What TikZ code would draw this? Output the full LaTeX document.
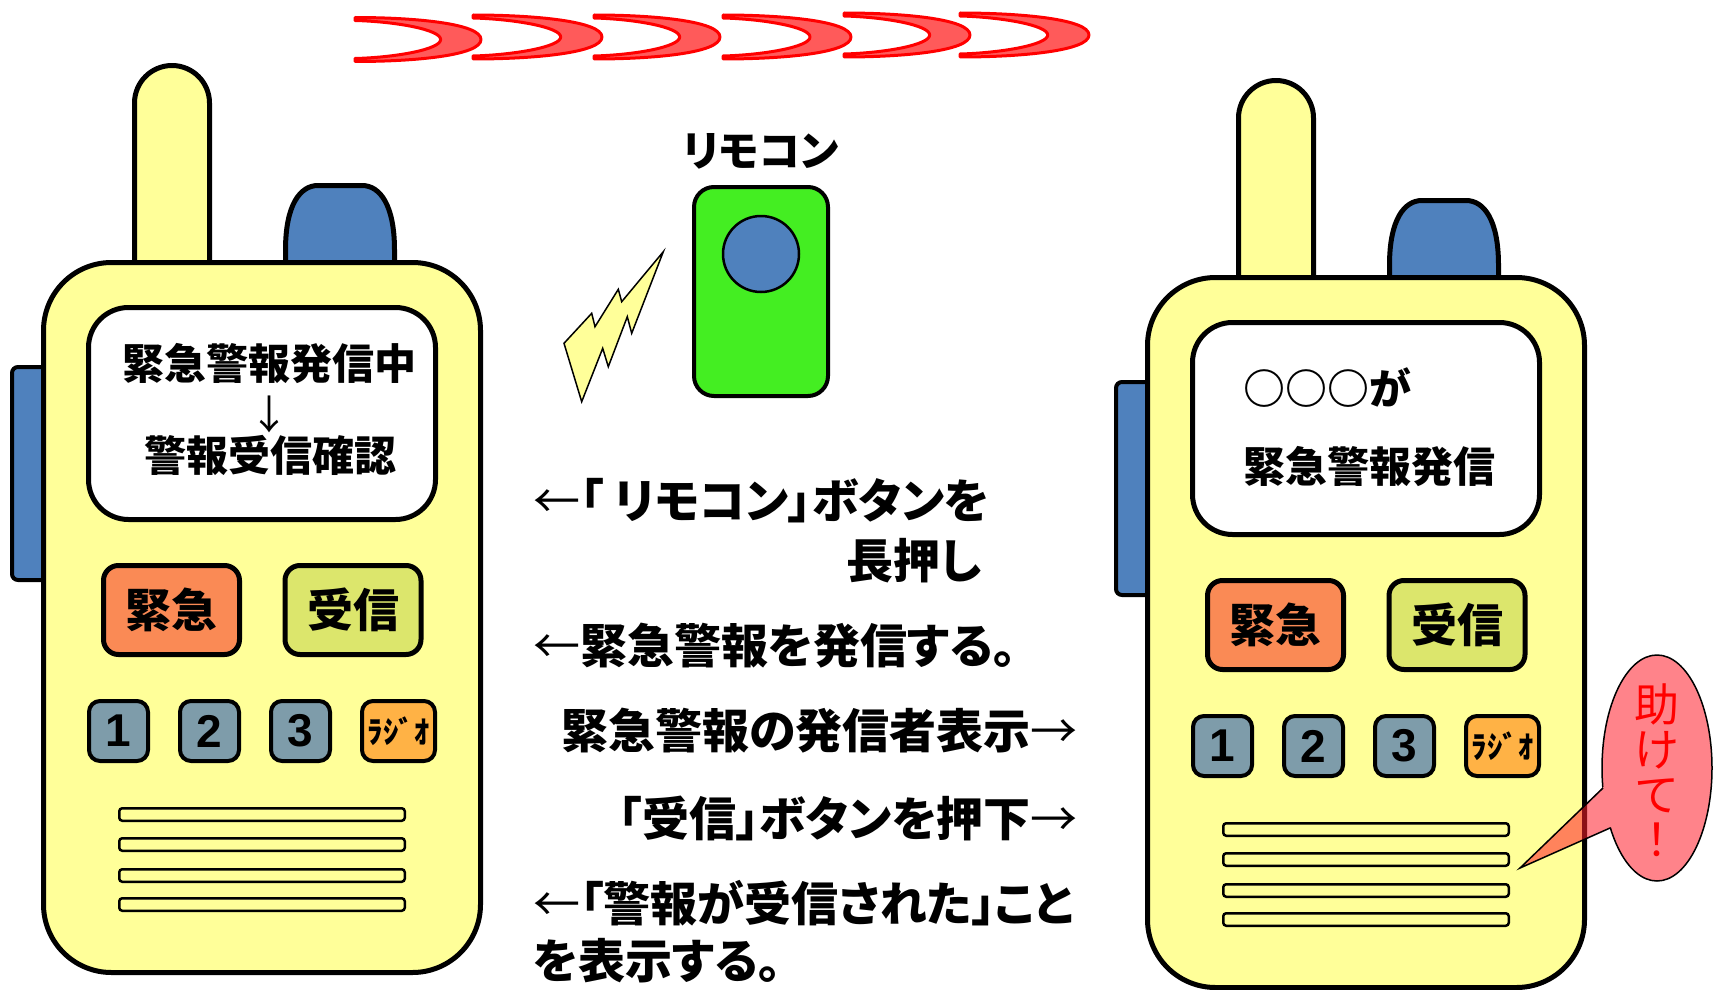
\documentclass[tikz,border=0pt]{standalone}
\usepackage{fontspec}
\setmainfont{Noto Sans CJK JP}[RawFeature=+palt]
\newfontfamily\digitfont{Liberation Sans}
\newcommand{\setpx}[1]{\fontsize{#1}{#1}\selectfont}
\newcommand{\thinarrow}[1]{{\mdseries #1}}

\definecolor{bodyyellow}{HTML}{FFFF99}
\definecolor{partblue}{HTML}{4F81BD}
\definecolor{emgorange}{HTML}{FA8A55}
\definecolor{rcvgreen}{HTML}{DCE66C}
\definecolor{keyblue}{HTML}{7E9CAA}
\definecolor{radioorange}{HTML}{FFB245}
\definecolor{remotegreen}{HTML}{44EE22}
\definecolor{wavefill}{HTML}{FF5A5A}
\definecolor{bubblered}{HTML}{FF1E2A}

\tikzset{
  shell/.style={draw=black, line width=5pt, line join=round},
  bigkey/.style={draw=black, line width=5pt, rounded corners=15pt,
    minimum width=136pt, minimum height=89pt, inner sep=0pt,
    font=\bfseries\setpx{46}},
  smallkey/.style={draw=black, line width=4pt, rounded corners=11pt,
    minimum width=59pt, minimum height=60pt, inner sep=0pt},
  digitkey/.style={smallkey, fill=keyblue, font=\digitfont\bfseries\setpx{46}},
  grille/.style={draw=black, line width=2.5pt, fill=bodyyellow, rounded corners=3pt},
  caption/.style={font=\bfseries\setpx{47}, inner sep=0pt},
  screentext/.style={font=\bfseries\setpx{42}, inner sep=0pt},
  wave/.style={draw=red, fill=wavefill, line width=3pt, line join=round},
}

% one handset: #1 name prefix, (#2,#3) offset
\newcommand{\handset}[3]{%
\begin{scope}[shift={(#2,#3)}]
  % side grip
  \draw[line width=4pt, fill=partblue, rounded corners=6pt] (12,367) rectangle (50,580);
  % antenna
  \draw[shell, fill=bodyyellow] (134.5,266) -- (134.5,103)
    .. controls (134.5,82.3) and (151.3,65.5) .. (172,65.5)
    .. controls (192.7,65.5) and (209.5,82.3) .. (209.5,103) -- (209.5,266);
  % knob
  \draw[shell, fill=partblue] (285.5,266) -- (285.5,250)
    .. controls (285.5,205) and (300,185.5) .. (318,185.5) -- (362,185.5)
    .. controls (380,185.5) and (394.5,205) .. (394.5,250) -- (394.5,266);
  % case
  \node[shell, fill=bodyyellow, rounded corners=68pt, minimum width=437pt,
        minimum height=710pt] (#1-body) at (262,617.5) {};
  % display
  \node[shell, fill=white, rounded corners=40pt, minimum width=347pt,
        minimum height=212pt] (#1-screen) at (262,413.5) {};
  % main keys
  \node[bigkey, fill=emgorange] (#1-emg) at (171.5,610) {緊急};
  \node[bigkey, fill=rcvgreen] (#1-rcv) at (353,610) {受信};
  % small keys
  \node[digitkey] (#1-k1) at (118.5,731) {1};
  \node[digitkey] (#1-k2) at (209.5,731) {2};
  \node[digitkey] (#1-k3) at (300.5,731) {3};
  \node[smallkey, fill=radioorange, minimum width=73pt, font=\bfseries\setpx{31}] (#1-radio) at (398.5,731) {ﾗｼﾞｵ};
  % speaker slots
  \draw[grille] (119.25,808.25) rectangle (404.75,820.75);
  \draw[grille] (119.25,838.25) rectangle (404.75,850.75);
  \draw[grille] (119.25,869.25) rectangle (404.75,881.75);
  \draw[grille] (119.25,898.25) rectangle (404.75,910.75);
\end{scope}}

\begin{document}
\begin{tikzpicture}[x=1pt, y=-1pt]
\useasboundingbox (0,0) rectangle (1713,990);

% radio waves along the top
\foreach \x/\y/\w in {355/39.5/126, 473/37/129, 594/37/126, 723/37/128, 844/35/126, 960/35/129}{
  \draw[wave, shift={(\x,\y)}] (0,-22) .. controls (60,-22) and (\w,-16) .. (\w,0)
    .. controls (\w,16) and (60,22) .. (0,22) -- (0,19)
    .. controls (40,18) and (0.68*\w,10) .. (0.68*\w,0)
    .. controls (0.68*\w,-10) and (40,-18) .. (0,-19) -- cycle;
}

% handsets
\handset{tx}{0}{0}
\handset{rx}{1104}{15}

% display texts
\node[screentext] (txline1) at (269,363) {緊急警報発信中};
\node[font=\mdseries\setpx{40}, inner sep=0pt] (txarrow) at (269,414) {↓};
\node[screentext] (txline2) at (270,455) {警報受信確認};
\node[screentext, anchor=west] (rxline1) at (1243,388) {○○○が};
\node[screentext, anchor=west] (rxline2) at (1243,466) {緊急警報発信};

% remote control
\node[font=\bfseries\setpx{42}, inner sep=0pt] (remotelabel) at (761,151) {リモコン};
\node[draw=black, line width=4pt, fill=remotegreen, rounded corners=20pt,
      minimum width=134pt, minimum height=209pt] (remote) at (761,291.5) {};
\node[circle, draw=black, line width=2.5pt, fill=partblue, minimum size=76pt,
      inner sep=0pt] (remotebtn) at (761,254) {};

% signal bolt
\draw[line width=1.5pt, fill=bodyyellow, line join=miter]
  (663.3,251.7) -- (631.7,333.3) -- (627.3,316.7) -- (608.3,366.7) -- (602.7,348.3)
  -- (581.7,401.7) -- (564,343.3) -- (591.7,313.3) -- (595,326.7) -- (618.3,289.3)
  -- (621.7,301.7) -- cycle;

% step captions
\node[caption, anchor=west] (cap1) at (533,501) {\thinarrow{←}「 リモコン」ボタンを};
\node[caption, anchor=east] (cap2) at (982,561) {長押し};
\node[caption, anchor=west] (cap3) at (533,646) {\thinarrow{←}緊急警報を発信する。};
\node[caption, anchor=east] (cap4) at (1078,731) {緊急警報の発信者表示\thinarrow{→}};
\node[caption, anchor=east] (cap5) at (1078,818) {「受信」ボタンを押下\thinarrow{→}};
\node[caption, anchor=west] (cap6) at (533,903) {\thinarrow{←}「警報が受信された」こと};
\node[caption, anchor=west] (cap7) at (533,961) {を表示する。};

% speech bubble
\coordinate (tailtip) at (1520,868);
\coordinate (tailtop) at (1603,788);
\coordinate (tailbot) at (1610,828);
\begin{scope}[transparency group, opacity=0.55]
  \fill[bubblered] (1657,768) ellipse [x radius=55pt, y radius=113pt];
  \fill[bubblered] (tailtip) -- (1626.6,764) -- (1635.7,816) -- cycle;
\end{scope}
\begin{scope}[even odd rule]
  \clip (0,0) rectangle (1713,990) (tailtip) -- (1626.6,764) -- (1635.7,816) -- cycle;
  \draw[line width=1.5pt] (1657,768) ellipse [x radius=55pt, y radius=113pt];
\end{scope}
\draw[line width=1.5pt, line join=miter] (tailtop) -- (tailtip) -- (tailbot);
\node[text=red, font=\mdseries\fontsize{45}{45}\selectfont, align=center,
      inner sep=0pt] (help) at (1657,770) {助\\け\\て\\！};
\end{tikzpicture}
\end{document}
